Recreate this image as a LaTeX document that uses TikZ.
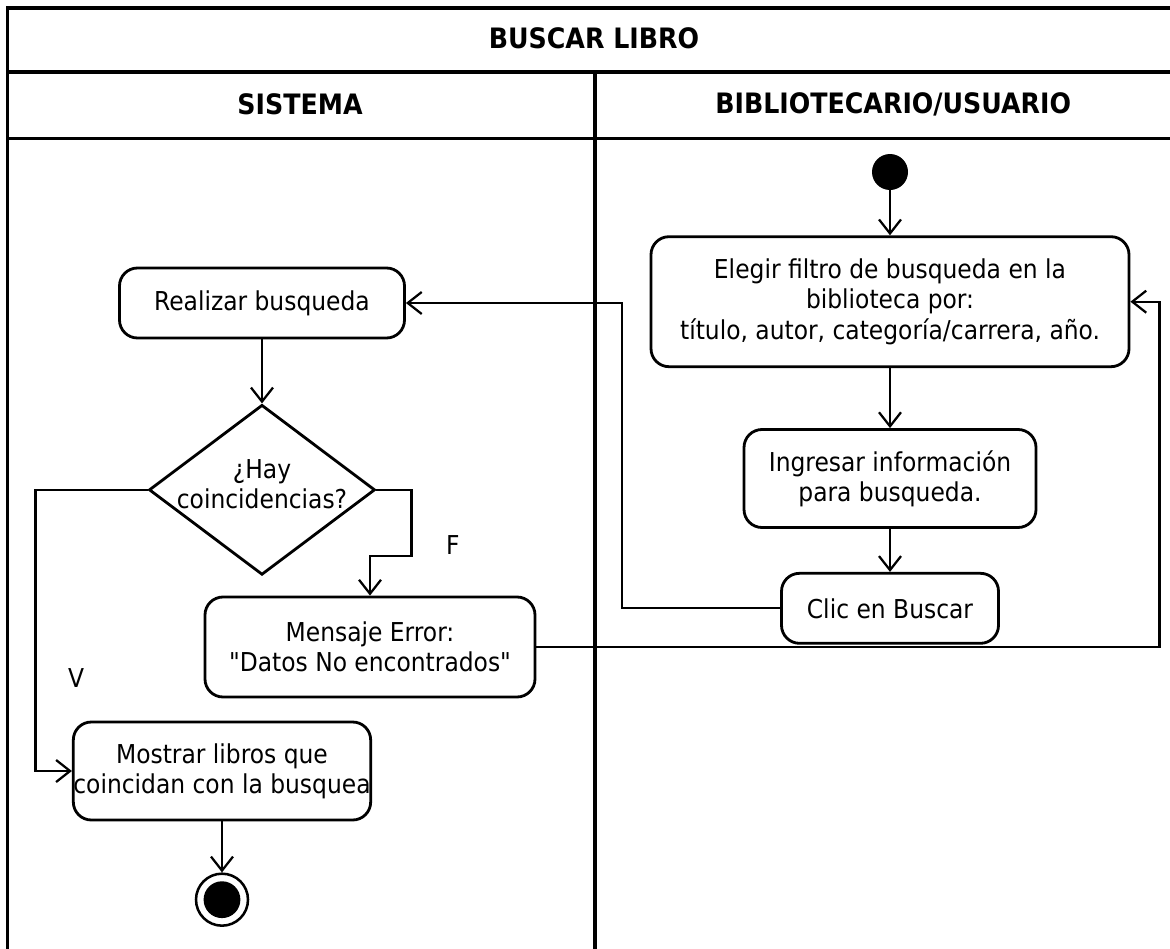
\documentclass[tikz,border=0pt]{standalone}
\usepackage{fontspec}
\setmainfont{DejaVu Sans Condensed}
\font\qtfont="DejaVu Sans Condensed" at 18.5pt
\newcommand{\qt}{{\qtfont\char34}}
\usetikzlibrary{positioning, shapes.geometric, arrows.meta}
\tikzset{act node/.style={rectangle,rounded corners=0.45cm,draw,line width=2pt,align=center,inner sep=0pt,font=\fontsize{18.5}{21.5}\selectfont}}
\tikzset{dec node/.style={diamond,draw,line width=2pt,inner sep=0pt}}
\tikzset{start node/.style={circle,fill=black,minimum size=0.9cm,inner sep=0pt}}
\tikzset{end node/.style={circle,draw,line width=1.8pt,minimum size=1.3cm,inner sep=0pt,path picture={\fill (path picture bounding box.center) circle (0.46cm);}}}
\tikzset{flow/.style={line width=1.6pt,-{Straight Barb[length=0.35cm,width=0.55cm]}}}
\tikzset{lane/.style={line width=2.4pt}}
\tikzset{lbl/.style={align=center,font=\fontsize{18.5}{21.5}\selectfont}}
\tikzset{head/.style={font=\fontsize{20}{24}\selectfont\bfseries}}

\begin{document}
\begin{tikzpicture}
        \clip (0,0) rectangle (29.25,-23.7);

        % frame and lanes
        \draw[lane] (0.18,-25) -- (0.18,-0.2) -- (30,-0.2);
        \draw[lane] (0.18,-1.8) -- (30,-1.8);
        \draw[lane] (0.18,-3.47) -- (30,-3.47);
        \draw[lane] (14.875,-1.8) -- (14.875,-25);
        \node[head] (t) at (14.85,-0.95) {BUSCAR LIBRO};
        \node[head] (s) at (7.5,-2.6) {SISTEMA};
        \node[head] (u) at (22.33,-2.6) {BIBLIOTECARIO/USUARIO};

        % bibliotecario/usuario
        \node[start node] (6) at (22.25,-4.3) {};
        \node[act node, minimum width=11.95cm, minimum height=3.25cm] (7) [below = 1.125cm of 6] {Elegir filtro de busqueda en la\\biblioteca por:\\título, autor, categoría/carrera, año.};
        \node[act node, minimum width=7.3cm, minimum height=2.45cm] (8) [below = 1.5cm of 7] {Ingresar información\\para busqueda.};
        \node[act node, minimum width=5.425cm, minimum height=1.75cm] (9) [below = 1.075cm of 8] {Clic en Buscar};

        % sistema
        \node[act node, minimum width=7.125cm, minimum height=1.75cm] (1) at (6.55,-7.575) {Realizar busqueda};
        \node[dec node, minimum width=5.65cm, minimum height=4.25cm] (2) [below = 1.6cm of 1] {};
        \node[lbl] (2t) at ([yshift=0.15cm]2.center) {¿Hay\\coincidencias?};
        \node[act node, minimum width=8.25cm, minimum height=2.5cm] (3) at (9.25,-16.175) {Mensaje Error:\\\qt Datos No encontrados\qt};
        \node[act node, minimum width=7.375cm, minimum height=2.45cm] (4) at (5.55,-19.275) {Mostrar libros que\\coincidan con la busquea};
        \node[end node] (5) [below = 1.275cm of 4] {};

        \node[lbl] (f) at (11.32,-13.62) {F};
        \node[lbl] (v) at (1.9,-16.95) {V};

        \draw[flow] (6) -- (7);
        \draw[flow] (7) -- (8);
        \draw[flow] (8) -- (9);
        \draw[flow] (9.west) -- ++(-3.95,0) |- (1.east);
        \draw[flow] (1) -- (2);
        \draw[flow] (2.east) -- ++(0.875,0) -- ++(0,-1.65) -| (3.north);
        \draw[flow] (2.west) -- ++(-2.8,0) |- (4.west);
        \draw[flow] (3.east) -- ++(15.575,0) |- (7.east);
        \draw[flow] (4) -- (5);
    \end{tikzpicture}
\end{document}
